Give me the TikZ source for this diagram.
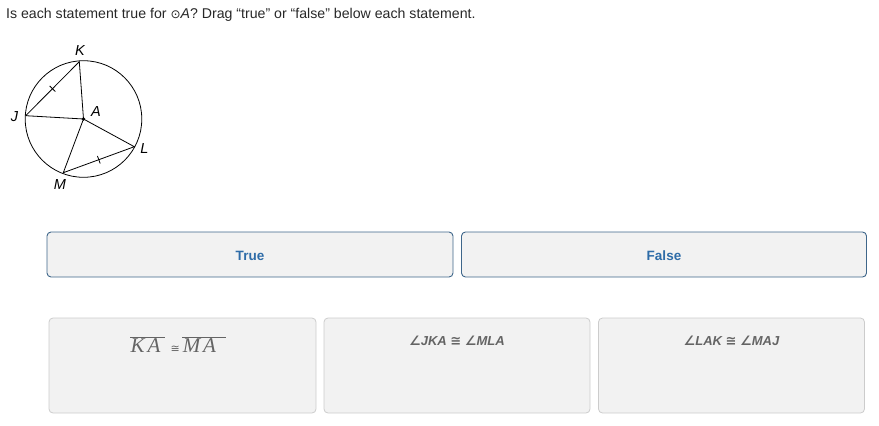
\documentclass[tikz,border=0pt]{standalone}
\usepackage{fontspec}
\setmainfont{Liberation Sans}
\newfontfamily\symf{DejaVu Sans}
\newfontfamily\serf{Liberation Serif}
\usetikzlibrary{calc}
\definecolor{boxfill}{RGB}{242,242,242}
\definecolor{tfborder}{RGB}{62,102,138}
\definecolor{tftext}{RGB}{46,108,168}
\definecolor{cardborder}{RGB}{204,204,204}
\definecolor{cardtext}{RGB}{100,100,100}
\definecolor{titletext}{RGB}{40,40,40}
\tikzset{
  fs/.style={font=\fontsize{#1}{#1}\selectfont},
  pt/.style={font=\fontsize{14.5}{14.5}\selectfont\itshape, inner sep=0pt},
  geo/.style={line width=0.8pt, black},
  target/.style={draw=tfborder, fill=boxfill, line width=0.9pt, rounded corners=4pt, minimum height=45pt},
  tflabel/.style={font=\fontsize{13.5}{13.5}\selectfont\bfseries, text=tftext, inner sep=0pt},
  card/.style={draw=cardborder, fill=boxfill, line width=0.8pt, rounded corners=4pt, minimum width=266pt, minimum height=95pt},
  cardlabel/.style={text=cardtext, inner sep=0pt, font=\fontsize{13}{13}\selectfont\bfseries\itshape}
}
\newcommand{\ovl}[1]{$\overline{\hbox{\serf\itshape\fontsize{21}{21}\selectfont #1}}$}
\begin{document}
\begin{tikzpicture}[x=1pt,y=-1pt]
\useasboundingbox (0,0) rectangle (879,426);
\node[anchor=base west, inner sep=0pt, text=titletext, fs=14.15] (title) at (6,18) {Is each statement true for {\symf\fontsize{12}{12}\selectfont ⊙}\textit{A}? Drag “true” or “false” below each statement.};
% geometry
\coordinate (A) at (83.5,119);
\coordinate (K) at (79.3,61.7);
\coordinate (J) at (25.7,115.7);
\coordinate (L) at (134.3,146.7);
\coordinate (M) at (63.3,172.7);
\draw[geo] (A) circle (58.3pt);
\draw[geo] (J) -- (K) -- (A) -- (J);
\draw[geo] (A) -- (M) -- (L) -- (A);
\fill (A) circle (1.8pt);
\draw[geo] ($(J)!0.5!(K)!4pt!90:(K)$) -- ($(J)!0.5!(K)!4pt!-90:(K)$);
\draw[geo] ($(M)!0.5!(L)!4pt!90:(L)$) -- ($(M)!0.5!(L)!4pt!-90:(L)$);
\node[pt] (lK) at (80,51) {K};
\node[pt] (lJ) at (14.5,116.5) {J};
\node[pt] (lA) at (96,111.5) {A};
\node[pt] (lL) at (144.5,149) {L};
\node[pt] (lM) at (60,185) {M};
% targets
\node[target, minimum width=406pt] (true) at (250,254.5) {};
\node[target, minimum width=405pt] (false) at (664,254.5) {};
\node[tflabel] (truet) at (250,256) {True};
\node[tflabel] (falset) at (664,256) {False};
% cards
\node[card, minimum width=267pt] (c1) at (182.5,365.5) {};
\node[card] (c2) at (457,365.5) {};
\node[card] (c3) at (731.5,365.5) {};
\node[text=cardtext, inner sep=0pt, anchor=base west] (t1) at (130,352.5) {\ovl{\kern0.5pt K\kern3pt A\kern4pt}\kern6pt{\symf\fontsize{11}{11}\selectfont ≅}\kern2.5pt\ovl{\kern0.5pt M\kern3pt A\kern10pt}};
\node[cardlabel, anchor=base] (t2) at (457,345.5) {{\symf\bfseries ∠}JKA {\symf\bfseries ≅} {\symf\bfseries ∠}MLA};
\node[cardlabel, anchor=base] (t3) at (731.5,345.5) {{\symf\bfseries ∠}LAK {\symf\bfseries ≅} {\symf\bfseries ∠}MAJ};
\end{tikzpicture}
\end{document}
